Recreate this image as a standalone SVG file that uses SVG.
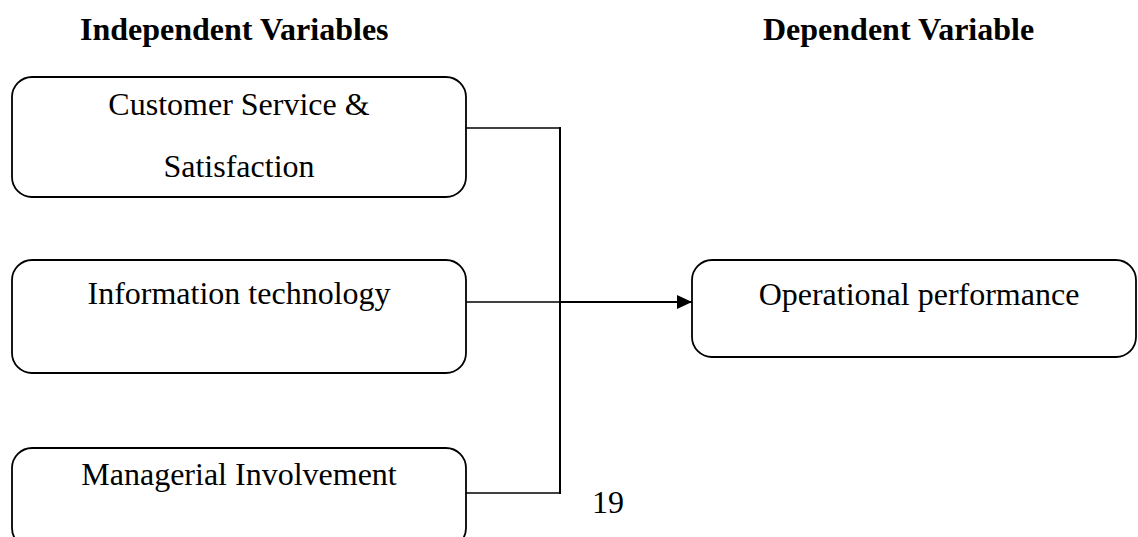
<svg xmlns="http://www.w3.org/2000/svg" width="1138" height="537" viewBox="0 0 1138 537">
<defs>
<style>
.box{fill:#fff;stroke:#000;stroke-width:1.8}
.t{font-family:"Liberation Serif","Times New Roman",serif;font-size:32px;fill:#000;text-anchor:middle}
.h{font-family:"Liberation Serif","Times New Roman",serif;font-size:32px;font-weight:bold;fill:#000}
.c{fill:none;stroke:#000}
</style>
<marker id="arr" markerWidth="16" markerHeight="14" refX="15" refY="7" orient="auto" markerUnits="userSpaceOnUse">
<path d="M0,0 L15,7 L0,14 Z" fill="#000"/>
</marker>
</defs>
<rect width="1138" height="537" fill="#fff"/>
<text class="h" x="80" y="40">Independent Variables</text>
<text class="h" x="763" y="40">Dependent Variable</text>
<g id="customer-service">
<rect class="box" x="12" y="77" width="454" height="120" rx="20"/>
<text class="t" x="239" y="115">Customer Service &amp;</text>
<text class="t" x="239" y="177">Satisfaction</text>
</g>
<g id="information-technology">
<rect class="box" x="12" y="260" width="454" height="113" rx="20"/>
<text class="t" x="239" y="304">Information technology</text>
</g>
<g id="managerial-involvement">
<rect class="box" x="12" y="448" width="454" height="100" rx="20"/>
<text class="t" x="239" y="485">Managerial Involvement</text>
</g>
<g id="operational-performance">
<rect class="box" x="692" y="260" width="444" height="97" rx="20"/>
<text class="t" x="919" y="305">Operational performance</text>
</g>
<g id="connectors">
<path class="c" stroke-width="1.5" d="M466,128 H560"/>
<path class="c" stroke-width="1.5" d="M466,493 H560"/>
<path class="c" stroke-width="2" d="M560,127 V494"/>
<path class="c" stroke-width="1.5" d="M466,302 H560"/>
<path class="c" stroke-width="2.2" d="M560,302 H692" marker-end="url(#arr)"/>
</g>
<text class="t" x="608" y="513">19</text>
</svg>
